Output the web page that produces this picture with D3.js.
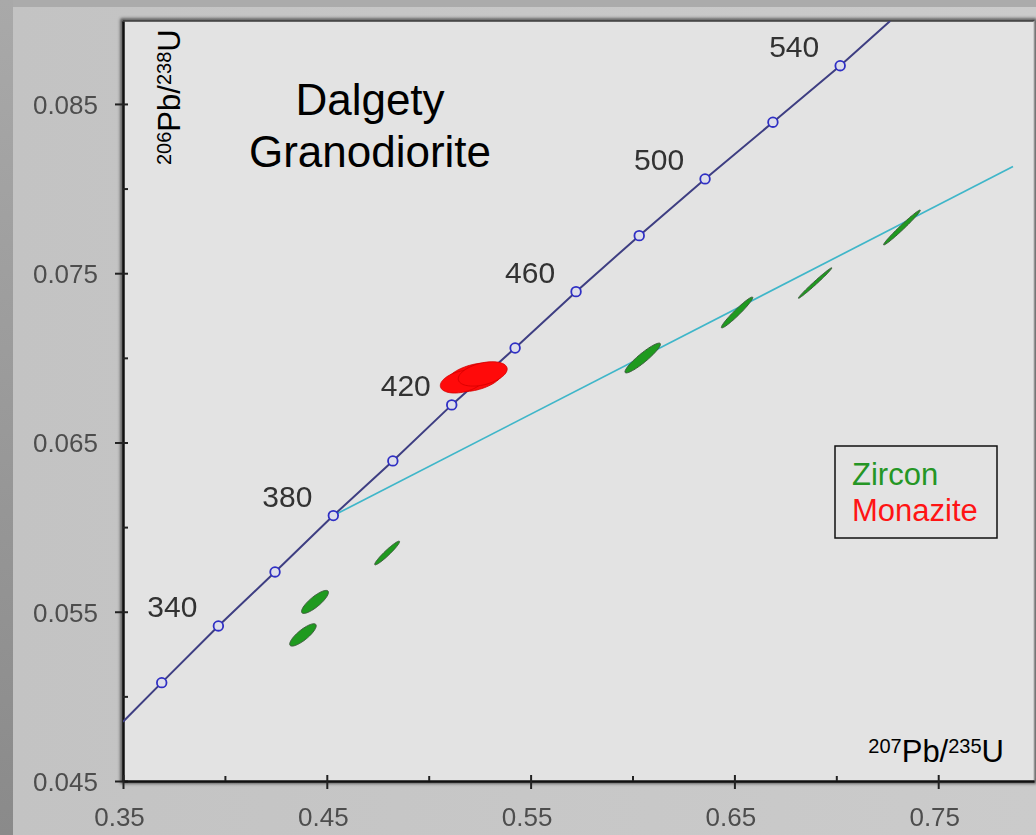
<!DOCTYPE html>
<html>
<head>
<meta charset="utf-8">
<script src="https://cdn.jsdelivr.net/npm/d3@7"></script>
<style>
  html, body { margin: 0; padding: 0; background: #9c9c9c; }
  svg { display: block; font-family: "Liberation Sans", Arial, sans-serif; }
</style>
</head>
<body>
<svg id="graph" width="1036" height="835"></svg>
<script>
// 轴刻度
const xMajorTicks = [0.35, 0.45, 0.55, 0.65, 0.75];
const xMinorTicks = [0.40, 0.50, 0.60, 0.70];
const yMajorTicks = [0.045, 0.055, 0.065, 0.075, 0.085];
const yMinorTicks = [0.050, 0.060, 0.070, 0.080];

// 谐和曲线 (每 20 Ma 一个标记)
const concordiaAge = [320, 340, 360, 380, 400, 420, 440, 460, 480, 500, 520, 540];
const concordiaX = [0.3690, 0.3968, 0.4246, 0.4532, 0.4824, 0.5113, 0.5424, 0.5723, 0.6033, 0.6356, 0.6689, 0.7019];
const concordiaY = [0.05081, 0.05416, 0.05735, 0.06068, 0.06391, 0.06722, 0.07058, 0.07391, 0.07722, 0.08057, 0.08392, 0.08726];
const concordiaStart = [0.35, 0.0485];
const concordiaEnd = [0.7264, 0.0899];
const labelledAges = [340, 380, 420, 460, 500, 540];

// 不一致线
const discordia = [[0.4532, 0.06068], [0.7867, 0.0813]];

// 锆石误差椭圆
const zirconX   = [0.4383, 0.4442, 0.4796, 0.6050, 0.6513, 0.6896, 0.7322];
const zirconY   = [0.05363, 0.05558, 0.05847, 0.06999, 0.07268, 0.07442, 0.07770];
const zirconSX  = [0.0065, 0.0066, 0.0061, 0.0087, 0.0077, 0.0082, 0.0090];
const zirconSY  = [0.00066, 0.00068, 0.00070, 0.00088, 0.00091, 0.00090, 0.00103];
const zirconRho = [0.82, 0.83, 0.955, 0.925, 0.965, 0.99, 0.985];

// 独居石误差椭圆
const monaziteX   = [0.5225, 0.5165, 0.5265];
const monaziteY   = [0.06885, 0.06860, 0.06905];
const monaziteSX  = [0.0140, 0.0108, 0.0120];
const monaziteSY  = [0.00085, 0.00068, 0.00072];
const monaziteRho = [0.40, 0.35, 0.40];

const legendItems = ['Zircon', 'Monazite'];
const legendColors = ['#259625', '#ff1414'];

const svg = d3.select('#graph');
const width = 1036, height = 835;
const margin = { top: 21, right: 2, bottom: 54, left: 123 };

const xScale = d3.scaleLinear()
                 .domain([0.35, 0.797])
                 .range([margin.left, width - margin.right]);
const yScale = d3.scaleLinear()
                 .domain([0.045, 0.0899])
                 .range([height - margin.bottom, margin.top]);

const defs = svg.append('defs');
const stripGrad = defs.append('linearGradient').attr('id', 'strip')
    .attr('x1', 0).attr('y1', 0).attr('x2', 0).attr('y2', 1);
stripGrad.append('stop').attr('offset', 0).attr('stop-color', '#a9a9a9');
stripGrad.append('stop').attr('offset', 1).attr('stop-color', '#8a8a8a');
const panelGrad = defs.append('linearGradient').attr('id', 'panel')
    .attr('x1', 0).attr('y1', 0).attr('x2', 1).attr('y2', 0);
panelGrad.append('stop').attr('offset', 0).attr('stop-color', '#c3c3c3');
panelGrad.append('stop').attr('offset', 1).attr('stop-color', '#cbcbcb');
defs.append('filter').attr('id', 'blur')
    .append('feGaussianBlur').attr('stdDeviation', 1.6);
defs.append('filter').attr('id', 'soft')
    .append('feGaussianBlur').attr('stdDeviation', 0.35);
defs.append('clipPath').attr('id', 'plotClip')
    .append('rect')
    .attr('x', margin.left).attr('y', margin.top)
    .attr('width', width - margin.left - margin.right)
    .attr('height', height - margin.top - margin.bottom);

// 背景
svg.append('rect').attr('width', width).attr('height', height).attr('fill', '#ababab');
svg.append('rect').attr('x', 0).attr('y', 0).attr('width', 13).attr('height', height).attr('fill', 'url(#strip)');
svg.append('rect').attr('x', 13).attr('y', 7).attr('width', width - 13).attr('height', height - 7).attr('fill', 'url(#panel)');

// 绘图区
svg.append('rect')
   .attr('x', margin.left - 1).attr('y', margin.top - 1)
   .attr('width', width - margin.left - margin.right + 2)
   .attr('height', height - margin.top - margin.bottom + 2)
   .attr('fill', 'none').attr('stroke', '#444').attr('stroke-width', 3)
   .attr('filter', 'url(#blur)');
svg.append('rect')
   .attr('x', margin.left).attr('y', margin.top)
   .attr('width', width - margin.left - margin.right)
   .attr('height', height - margin.top - margin.bottom)
   .attr('fill', '#e3e3e3');
svg.append('line')
   .attr('x1', margin.left).attr('x2', width - margin.right)
   .attr('y1', margin.top).attr('y2', margin.top)
   .attr('stroke', '#3a3a3a').attr('stroke-width', 1.5);
svg.append('line')
   .attr('x1', width - margin.right).attr('x2', width - margin.right)
   .attr('y1', margin.top).attr('y2', height - margin.bottom)
   .attr('stroke', '#b5b5b5').attr('stroke-width', 1);

// 坐标轴
const tickFont = '26px';
const yAxis = d3.axisLeft(yScale).tickValues(yMajorTicks).tickFormat(d3.format('.3f')).tickSizeOuter(0);
const gy = svg.append('g')
   .attr('class', 'y-axis')
   .attr('transform', `translate(${margin.left}, 0)`)
   .call(yAxis);
gy.select('.domain').attr('stroke', '#111').attr('stroke-width', 2.5);
gy.selectAll('.tick line').attr('x1', 5).attr('x2', -8).attr('stroke', '#222').attr('stroke-width', 2);
gy.selectAll('.tick text')
  .attr('x', -25).attr('dy', '0.36em')
  .attr('fill', '#4d4d4d').attr('filter', 'url(#soft)').style('font-size', tickFont);

const yMinor = d3.axisLeft(yScale).tickValues(yMinorTicks).tickSize(-5).tickFormat('');
svg.append('g')
   .attr('transform', `translate(${margin.left}, 0)`)
   .call(yMinor)
   .call(g => g.select('.domain').remove())
   .selectAll('.tick line').attr('stroke', '#222').attr('stroke-width', 2);

const xAxis = d3.axisBottom(xScale).tickValues(xMajorTicks).tickFormat(d3.format('.2f')).tickSizeOuter(0);
const gx = svg.append('g')
   .attr('class', 'x-axis')
   .attr('transform', `translate(0, ${height - margin.bottom})`)
   .call(xAxis);
gx.select('.domain').attr('stroke', '#111').attr('stroke-width', 2.5);
gx.selectAll('.tick line').attr('y1', -6).attr('y2', 8).attr('stroke', '#222').attr('stroke-width', 2);
gx.selectAll('.tick text')
  .attr('y', 45).attr('dy', 0).attr('dx', -4)
  .attr('fill', '#4d4d4d').attr('filter', 'url(#soft)').style('font-size', tickFont);

const xMinor = d3.axisBottom(xScale).tickValues(xMinorTicks).tickSize(-5).tickFormat('');
svg.append('g')
   .attr('transform', `translate(0, ${height - margin.bottom})`)
   .call(xMinor)
   .call(g => g.select('.domain').remove())
   .selectAll('.tick line').attr('stroke', '#222').attr('stroke-width', 2);

// 误差椭圆
const ellipsePath = d => {
    const k = Math.sqrt(1 - d.rho * d.rho);
    const pts = d3.range(0, 73).map(i => {
        const t = i / 72 * 2 * Math.PI;
        return [xScale(d.cx + d.sx * Math.cos(t)),
                yScale(d.cy + d.sy * (d.rho * Math.cos(t) + k * Math.sin(t)))];
    });
    return d3.line()(pts) + 'Z';
};
const zircons = zirconX.map((v, i) => ({ cx: v, cy: zirconY[i], sx: zirconSX[i], sy: zirconSY[i], rho: zirconRho[i] }));
const monazites = monaziteX.map((v, i) => ({ cx: v, cy: monaziteY[i], sx: monaziteSX[i], sy: monaziteSY[i], rho: monaziteRho[i] }));

const plot = svg.append('g').attr('clip-path', 'url(#plotClip)');

// 不一致线
plot.append('path')
    .attr('d', d3.line().x(d => xScale(d[0])).y(d => yScale(d[1]))(discordia))
    .attr('fill', 'none').attr('stroke', '#3fb6c9').attr('stroke-width', 1.7);

// 谐和曲线
const concordiaPts = [concordiaStart]
    .concat(concordiaX.map((v, i) => [v, concordiaY[i]]))
    .concat([concordiaEnd]);
plot.append('path')
    .attr('d', d3.line().x(d => xScale(d[0])).y(d => yScale(d[1]))(concordiaPts))
    .attr('fill', 'none').attr('stroke', '#3e3e82').attr('stroke-width', 2);

plot.selectAll('.zircon').data(zircons).enter().append('path')
    .attr('class', 'zircon')
    .attr('d', ellipsePath)
    .attr('fill', '#1f9a1f').attr('stroke', '#3d5a3d').attr('stroke-width', 1);

plot.selectAll('.monazite').data(monazites).enter().append('path')
    .attr('class', 'monazite')
    .attr('d', ellipsePath)
    .attr('fill', '#ff0a0a').attr('stroke', '#d20000').attr('stroke-width', 0.8);

plot.selectAll('.age-mark').data(concordiaAge).enter().append('circle')
    .attr('class', 'age-mark')
    .attr('cx', (d, i) => xScale(concordiaX[i]))
    .attr('cy', (d, i) => yScale(concordiaY[i]))
    .attr('r', 4.8)
    .attr('fill', '#dedfea').attr('stroke', '#2f2fc4').attr('stroke-width', 1.8);

svg.selectAll('.age-label').data(labelledAges).enter().append('text')
    .attr('class', 'age-label')
    .attr('x', d => xScale(concordiaX[concordiaAge.indexOf(d)]) - 46)
    .attr('y', d => yScale(concordiaY[concordiaAge.indexOf(d)]) - 9)
    .attr('text-anchor', 'middle')
    .attr('fill', '#333')
    .attr('filter', 'url(#soft)')
    .style('font-size', '30px')
    .text(d => d);

// 标题
const title = svg.append('text')
    .attr('text-anchor', 'middle')
    .attr('fill', '#000')
    .style('font-size', '44px');
title.append('tspan').attr('x', 370).attr('y', 115).text('Dalgety');
title.append('tspan').attr('x', 370).attr('y', 167).text('Granodiorite');

// 轴标题（带上标）
const isotopeLabel = (sel, a, b, c, d) => {
    sel.append('tspan').style('font-size', '20px').attr('dy', -9).text(a);
    sel.append('tspan').attr('dy', 9).text(b);
    sel.append('tspan').style('font-size', '20px').attr('dy', -9).text(c);
    sel.append('tspan').attr('dy', 9).text(d);
};
svg.append('text')
   .attr('x', 1004).attr('y', 762)
   .attr('text-anchor', 'end')
   .style('font-size', '31px')
   .call(isotopeLabel, '207', 'Pb/', '235', 'U');
svg.append('text')
   .attr('transform', 'translate(180, 165) rotate(-90)')
   .attr('text-anchor', 'start')
   .style('font-size', '31px')
   .call(isotopeLabel, '206', 'Pb/', '238', 'U');

// 图例
svg.append('rect')
   .attr('x', 835).attr('y', 446).attr('width', 162).attr('height', 92)
   .attr('fill', 'none').attr('stroke', '#111').attr('stroke-width', 1.5);
svg.selectAll('.legend').data(legendItems).enter().append('text')
   .attr('class', 'legend')
   .attr('x', 852)
   .attr('y', (d, i) => 485 + i * 36)
   .attr('fill', (d, i) => legendColors[i])
   .style('font-size', '31px')
   .text(d => d);
</script>
</body>
</html>
